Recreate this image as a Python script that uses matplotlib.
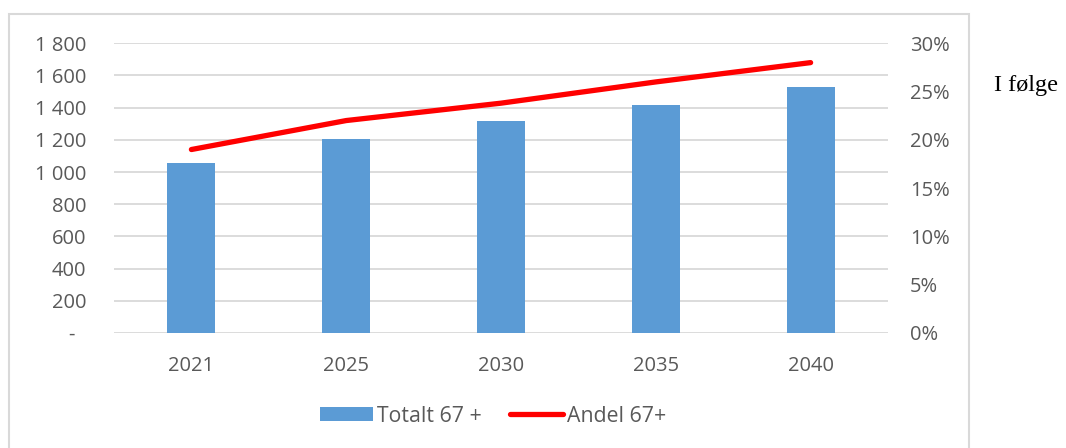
import matplotlib.pyplot as plt
import matplotlib.patches as patches
from matplotlib.ticker import FuncFormatter, MultipleLocator

# Data
years = ["2021", "2025", "2030", "2035", "2040"]
totalt_67 = [1055, 1205, 1315, 1415, 1530]
andel_67 = [19.0, 22.0, 23.8, 26.0, 28.0]  # percent

bar_color = "#5B9BD5"
line_color = "#FF0000"
grid_color = "#D9D9D9"
text_color = "#595959"

plt.rcParams['font.family'] = ['Open Sans', 'DejaVu Sans']

fig = plt.figure(figsize=(10.66, 4.48), dpi=100)
ax = fig.add_axes([114 / 1066, 1 - 333 / 448, (888 - 114) / 1066, (333 - 43.3) / 448])
ax2 = ax.twinx()

x = list(range(len(years)))
bars = ax.bar(x, totalt_67, width=0.31, color=bar_color, zorder=2, label="Totalt 67 +")
line, = ax2.plot(x, andel_67, color=line_color, lw=3.8, solid_capstyle='round',
                 zorder=3, label="Andel 67+")

ax.set_xlim(-0.5, len(years) - 0.5)
ax.set_ylim(0, 1800)
ax.yaxis.set_major_locator(MultipleLocator(200))
ax2.set_ylim(0, 30)
ax2.yaxis.set_major_locator(MultipleLocator(5))


def thousands(v, pos):
    if v == 0:
        return "-  "
    return f"{int(v):,}".replace(",", " ")


ax.yaxis.set_major_formatter(FuncFormatter(thousands))
ax2.yaxis.set_major_formatter(FuncFormatter(lambda v, pos: f"{v:.0f}%"))

ax.set_xticks(x)
ax.set_xticklabels(years)

ax.grid(axis='y', color=grid_color, lw=1.3, zorder=0)
ax.set_axisbelow(True)
for a in (ax, ax2):
    for s in a.spines.values():
        s.set_visible(False)

ax.tick_params(axis='y', length=0, pad=20, labelsize=14.5, labelcolor=text_color)
ax.tick_params(axis='x', length=0, pad=16.5, labelsize=14.5, labelcolor=text_color)
ax2.tick_params(axis='y', length=0, pad=16, labelsize=14.5, labelcolor=text_color)

# legend below the plot
fig.legend(handles=[bars, line], loc='center', bbox_to_anchor=(493 / 1066, 1 - 416 / 448),
           ncol=2, frameon=False, fontsize=15.3, labelcolor=text_color,
           handlelength=2.5, handleheight=0.6, handletextpad=0.2, columnspacing=1.3)

# chart border (open at the bottom, as in the cropped source)
border = patches.Rectangle((9 / 1066, -0.05), (969 - 9) / 1066, 1.05 - 14 / 448,
                           transform=fig.transFigure, fill=False,
                           edgecolor=grid_color, lw=1.5)
fig.patches.append(border)

fig.text(994 / 1066, 1 - 91.5 / 448, "I følge", family='Liberation Serif',
         fontsize=17.5, color='black', ha='left', va='baseline')

fig.savefig("out.png", dpi=100)
